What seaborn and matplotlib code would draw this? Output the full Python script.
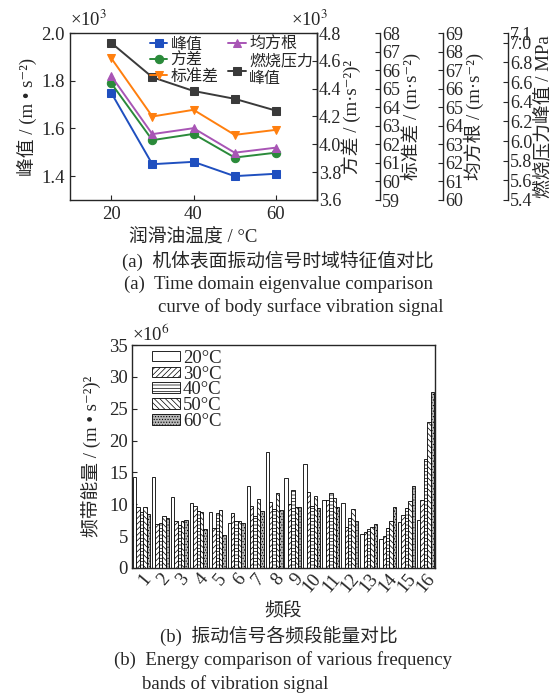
import numpy as np
import pandas as pd
import matplotlib
matplotlib.use('Agg')
import matplotlib.pyplot as plt
import seaborn as sns
from matplotlib.patches import Patch

# ---------------- data ----------------
temps = [20, 30, 40, 50, 60]
peak = [1.75, 1.45, 1.46, 1.40, 1.41]            # x10^3 m/s^2
variance = [4.44, 4.03, 4.075, 3.905, 3.94]      # x10^3 (m/s^2)^2
std_dev = [66.65, 63.5, 63.86, 62.51, 62.78]
rms = [66.69, 63.55, 63.87, 62.55, 62.82]
pressure = [7.0, 6.65, 6.51, 6.43, 6.31]         # MPa

bands = [str(i) for i in range(1, 17)]
band_temps = ['20°C', '30°C', '40°C', '50°C', '60°C']
e20 = [14.3, 14.3, 11.1, 10.2, 8.85, 7.1, 12.9, 18.2, 14.2, 16.4, 10.7, 10.2, 5.3, 4.6, 7.2, 7.6]
e30 = [9.5, 6.9, 7.3, 9.8, 6.3, 8.7, 9.8, 10.3, 10.1, 11.9, 10.7, 6.5, 5.6, 5.0, 8.3, 10.6]
e40 = [8.8, 7.1, 6.7, 9.0, 8.7, 7.3, 8.1, 9.2, 12.2, 9.8, 11.8, 7.9, 6.1, 6.3, 9.4, 17.1]
e50 = [9.6, 8.1, 7.3, 8.85, 9.05, 7.4, 10.8, 11.7, 9.5, 11.3, 11.0, 9.2, 6.5, 7.4, 10.5, 22.9]
e60 = [8.5, 7.8, 7.5, 6.1, 5.2, 7.0, 8.9, 9.1, 9.5, 9.4, 9.6, 7.3, 6.9, 9.6, 12.8, 27.6]

# ---------------- style ----------------
sns.set_style('ticks')
plt.rcParams['font.family'] = ['Liberation Serif', 'Noto Sans CJK SC', 'DejaVu Sans']
plt.rcParams['mathtext.fontset'] = 'stix'
plt.rcParams['axes.linewidth'] = 1.0
plt.rcParams['hatch.linewidth'] = 0.5
plt.rcParams['axes.unicode_minus'] = False
FS = 13.5      # numbers
FSR = 13       # right-axis numbers
FSC = 13.5     # labels / captions

W, H = 559, 695
fig = plt.figure(figsize=(W / 100, H / 100), dpi=100)

# ================= top chart =================
L, R, T, B = 70, 317, 33, 200
ax = fig.add_axes([L / W, 1 - B / H, (R - L) / W, (B - T) / H])
t1 = ax.twinx()
t2 = ax.twinx()
t3 = ax.twinx()
t4 = ax.twinx()
for tw, px in [(t2, 380), (t3, 443), (t4, 508)]:
    tw.spines['right'].set_position(('axes', (px - L) / (R - L)))
for tw in [t1, t2, t3, t4]:
    for s in ['left', 'top', 'bottom']:
        tw.spines[s].set_visible(False)
    tw.spines['right'].set_linewidth(1.0)
    tw.tick_params(axis='y', direction='in', length=3.5, width=0.8, labelsize=FSR, pad=1.5)

c_peak, c_var, c_std, c_rms, c_pre = '#1f4fbf', '#2a8a3a', '#ff7f0e', '#a855b5', '#3a3a3a'
series = [
    (ax, peak, c_peak, 's', '峰值'),
    (t1, variance, c_var, 'o', '方差'),
    (t2, std_dev, c_std, 'v', '标准差'),
    (t3, rms, c_rms, '^', '均方根'),
    (t4, pressure, c_pre, 's', '燃烧压力\n峰值'),
]
handles = {}
for a, vals, col, mk, lab in series:
    sns.lineplot(x=temps, y=vals, ax=a, color=col, marker=mk, markersize=6,
                 markeredgecolor=col, linewidth=1.4, legend=False)
    handles[lab] = a.lines[-1]

ax.set_xlim(10, 70)
ax.set_xticks([20, 40, 60])
ax.set_ylim(1.3, 2.0)
ax.set_yticks([1.4, 1.6, 1.8, 2.0])
ax.set_yticklabels(['1.4', '1.6', '1.8', '2.0'])
ax.tick_params(direction='in', length=3.5, width=0.8, labelsize=FS, pad=4)
ax.tick_params(axis='y', right=False)
ax.set_xlabel('润滑油温度 / °C', fontsize=FSC, labelpad=5)
ax.set_ylabel('峰值 / (m • s⁻²)', fontsize=FSC, labelpad=3)

t1.set_ylim(3.6, 4.8)
t1.set_yticks([3.6, 3.8, 4.0, 4.2, 4.4, 4.6, 4.8])
t1.set_yticklabels(['3.6', '3.8', '4.0', '4.2', '4.4', '4.6', '4.8'])
t1.set_ylabel('方差 / (m·s⁻²)²', fontsize=FSC, labelpad=0)

t2.set_ylim(59, 68)
t2.set_yticks(list(range(59, 69)))
t2.set_ylabel('标准差 / (m·s⁻²)', fontsize=FSC, labelpad=0)

t3.set_ylim(60, 69)
t3.set_yticks(list(range(60, 70)))
t3.set_ylabel('均方根 / (m·s⁻²)', fontsize=FSC, labelpad=0)

t4.set_ylim(5.4, 7.1)
pt = [5.4, 5.6, 5.8, 6.0, 6.2, 6.4, 6.6, 6.8, 7.0, 7.1]
t4.set_yticks(pt)
t4.set_yticklabels([f'{v:.1f}' for v in pt])
t4.set_ylabel('燃烧压力峰值 / MPa', fontsize=FSC, labelpad=1)

order = ['峰值', '方差', '标准差', '均方根', '燃烧压力\n峰值']
t4.legend([handles[k] for k in order], order, ncol=2, loc='upper right',
          bbox_to_anchor=(1.0, 1.0), bbox_transform=ax.transAxes, frameon=False,
          fontsize=11.5, handlelength=1.1, handletextpad=0.2, columnspacing=0.6,
          labelspacing=0.0, borderpad=0.15, borderaxespad=0.1)

ax.text(0.0, 1.02, '×10$^3$', transform=ax.transAxes, fontsize=FS, ha='left', va='bottom')
ax.text(0.97, 1.02, '×10$^3$', transform=ax.transAxes, fontsize=FS, ha='center', va='bottom')

fig.text(278 / W, 1 - 261 / H, '(a)  机体表面振动信号时域特征值对比', fontsize=FSC, ha='center', va='center')
fig.text(278 / W, 1 - 284 / H, '(a)  Time domain eigenvalue comparison', fontsize=FSC, ha='center', va='center')
fig.text(301 / W, 1 - 307 / H, 'curve of body surface vibration signal', fontsize=FSC, ha='center', va='center')

# ================= bottom chart =================
L2, R2, T2, B2 = 132, 435, 345, 568
ax2 = fig.add_axes([L2 / W, 1 - B2 / H, (R2 - L2) / W, (B2 - T2) / H])

energy = {'20°C': e20, '30°C': e30, '40°C': e40, '50°C': e50, '60°C': e60}
rows = []
for t in band_temps:
    for b, v in zip(bands, energy[t]):
        rows.append({'band': b, 'temp': t, 'energy': v})
df = pd.DataFrame(rows)

faces = {'20°C': 'white', '30°C': 'white', '40°C': 'white', '50°C': 'white', '60°C': '#b8b8b8'}
hatches = {'20°C': '', '30°C': '//////', '40°C': '-----', '50°C': '\\\\\\\\\\\\', '60°C': '......'}

sns.barplot(data=df, x='band', y='energy', hue='temp', hue_order=band_temps, order=bands,
            palette=faces, saturation=1, edgecolor='black', linewidth=0.6,
            width=0.9, gap=0, ax=ax2, legend=False, errorbar=None)
for cont, t in zip(ax2.containers, band_temps):
    for bar in cont:
        bar.set_hatch(hatches[t])

ax2.set_xlim(-0.5, 15.5)
ax2.set_ylim(0, 35)
ax2.set_yticks(range(0, 36, 5))
ax2.tick_params(axis='y', direction='in', length=3.5, width=0.8, labelsize=FS, pad=3)
ax2.tick_params(axis='x', length=0, labelsize=FS, pad=2)
for lab in ax2.get_xticklabels():
    lab.set_rotation(50)
    lab.set_ha('right')
    lab.set_va('top')
    lab.set_rotation_mode('anchor')
ax2.set_xlabel('频段', fontsize=FSC, labelpad=5)
ax2.set_ylabel('频带能量 / (m • s⁻²)²', fontsize=FSC, labelpad=6)
ax2.text(0.0, 1.0, '×10$^6$', transform=ax2.transAxes, fontsize=FS, ha='left', va='bottom')

leg_handles = [Patch(facecolor=faces[t], edgecolor='black', hatch=hatches[t], linewidth=0.6)
               for t in band_temps]
ax2.legend(leg_handles, band_temps, loc='upper left', bbox_to_anchor=(0.05, 1.0),
           frameon=False, fontsize=FS,
           handlelength=1.5, handleheight=0.5, handletextpad=0.15, labelspacing=-0.06,
           borderpad=0.15, borderaxespad=0.1)

fig.text(279 / W, 1 - 636 / H, '(b)  振动信号各频段能量对比', fontsize=FSC, ha='center', va='center')
fig.text(283 / W, 1 - 660 / H, '(b)  Energy comparison of various frequency', fontsize=FSC, ha='center', va='center')
fig.text(235 / W, 1 - 684 / H, 'bands of vibration signal', fontsize=FSC, ha='center', va='center')

fig.savefig('out.png', dpi=100)
